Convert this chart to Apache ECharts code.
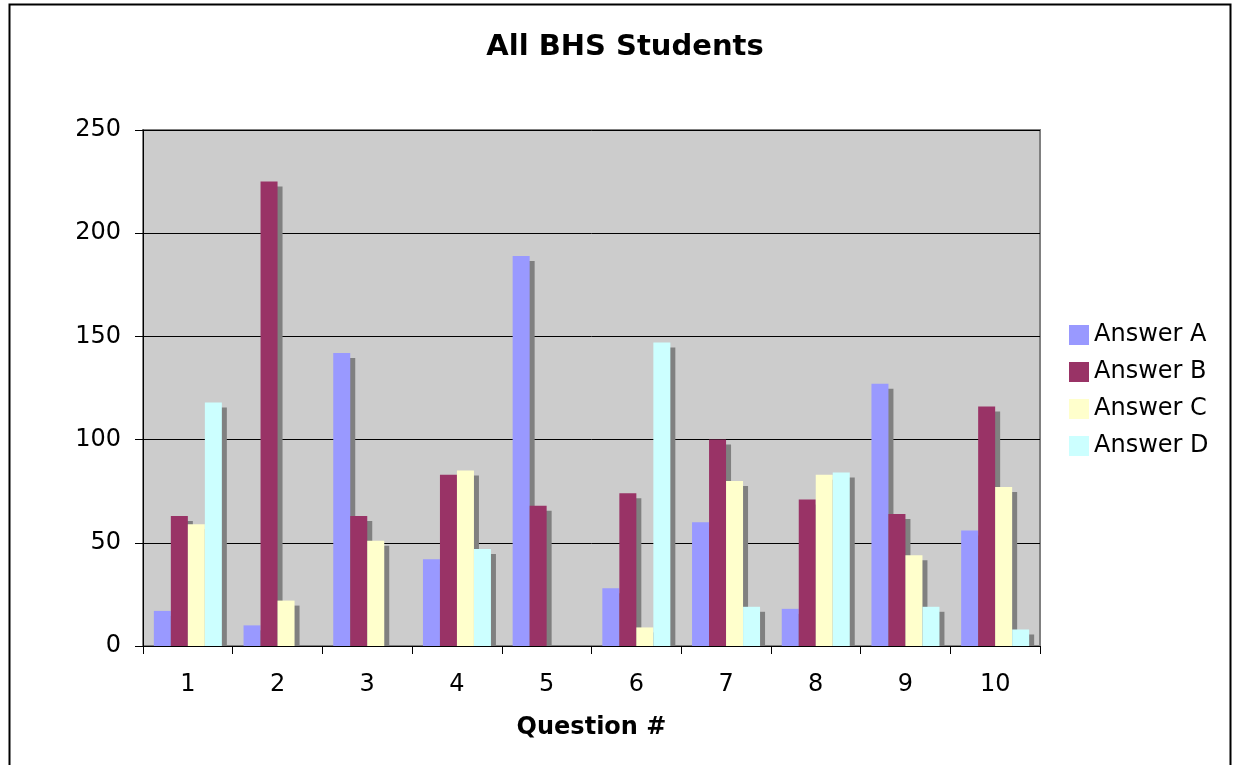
<!DOCTYPE html>
<html>
<head>
<meta charset="utf-8">
<title>All BHS Students</title>
<script src="https://cdn.jsdelivr.net/npm/echarts@6/dist/echarts.min.js"></script>
<style>
  html, body { margin: 0; padding: 0; background: #fff; }
  #chart { width: 1233px; height: 765px; }
</style>
</head>
<body>
<div id="chart"></div>
<script>
// question numbers on the x axis
var questions = ['1', '2', '3', '4', '5', '6', '7', '8', '9', '10'];
var seriesNames = ['Answer A', 'Answer B', 'Answer C', 'Answer D'];
// counts per answer
var answerA = [17, 10, 142, 42, 189, 28, 60, 18, 127, 56];
var answerB = [63, 225, 63, 83, 68, 74, 100, 71, 64, 116];
var answerC = [59, 22, 51, 85, 0, 9, 80, 83, 44, 77];
var answerD = [118, 0, 0, 47, 0, 147, 19, 84, 19, 8];
var colors = ['#9999ff', '#993366', '#ffffcc', '#ccffff'];

var allData = [answerA, answerB, answerC, answerD];
var BAR_W = 17;
var SHADOW = 5;
var font = '"DejaVu Sans", Verdana, sans-serif';

// grey drop shadow behind each bar, placed through the axes like the bars
function shadowSeries(k) {
    return {
        type: 'custom',
        z: 1,
        silent: true,
        legendHoverLink: false,
        data: allData[k].map(function (v, i) { return [i, v]; }),
        encode: { x: 0, y: 1 },
        renderItem: function (params, api) {
            var v = api.value(1);
            if (!v) return null;
            var top = api.coord([api.value(0), v]);
            var base = api.coord([api.value(0), 0]);
            var x0 = top[0] - 2 * BAR_W + k * BAR_W + SHADOW;
            var y0 = top[1] + SHADOW;
            var h = base[1] - y0;
            if (h <= 0) return null;
            return {
                type: 'rect',
                shape: { x: x0, y: y0, width: BAR_W, height: h },
                style: { fill: '#808080' }
            };
        }
    };
}

var series = [];
for (var k = 0; k < 4; k++) series.push(shadowSeries(k));
for (var k = 0; k < 4; k++) {
    series.push({
        name: seriesNames[k],
        type: 'bar',
        z: 2,
        data: allData[k],
        barWidth: BAR_W,
        barGap: '0%',
        itemStyle: { color: colors[k] }
    });
}

var chart = echarts.init(document.getElementById('chart'), null, { renderer: 'canvas' });
chart.setOption({
    animation: false,
    backgroundColor: '#ffffff',
    color: colors,
    textStyle: { fontFamily: font },
    title: {
        text: 'All BHS Students',
        left: 620,
        textAlign: 'center',
        top: 28,
        textStyle: { fontFamily: font, fontSize: 29, fontWeight: 'bold', color: '#000' }
    },
    legend: {
        orient: 'vertical',
        left: 1064,
        top: 318,
        itemWidth: 20,
        itemHeight: 20,
        itemGap: 13,
        icon: 'rect',
        data: seriesNames,
        textStyle: { fontFamily: font, fontSize: 24, color: '#000' }
    },
    graphic: [{
        type: 'rect',
        left: 7,
        top: 2,
        shape: { width: 1221, height: 800 },
        style: { fill: 'none', stroke: '#000', lineWidth: 2 },
        silent: true
    }],
    grid: {
        left: 143,
        top: 130,
        width: 897,
        height: 516,
        show: true,
        backgroundColor: '#cccccc',
        borderColor: '#808080',
        borderWidth: 2
    },
    xAxis: {
        type: 'category',
        data: questions,
        name: 'Question #',
        nameLocation: 'middle',
        nameGap: 70,
        nameTextStyle: { fontFamily: font, fontSize: 24, fontWeight: 'bold', color: '#000' },
        axisLine: { show: true, lineStyle: { color: '#000', width: 1 } },
        axisTick: { show: true, length: 8, lineStyle: { color: '#000' } },
        axisLabel: { margin: 27, fontSize: 24, color: '#000', fontFamily: font },
        splitLine: { show: false }
    },
    yAxis: {
        type: 'value',
        min: 0,
        max: 250,
        interval: 50,
        axisLine: { show: true, lineStyle: { color: '#000', width: 1 } },
        axisTick: { show: true, length: 8, lineStyle: { color: '#000' } },
        axisLabel: { margin: 22, fontSize: 24, color: '#000', fontFamily: font },
        splitLine: { show: true, lineStyle: { color: '#000', width: 1 } }
    },
    series: series
});
</script>
</body>
</html>
